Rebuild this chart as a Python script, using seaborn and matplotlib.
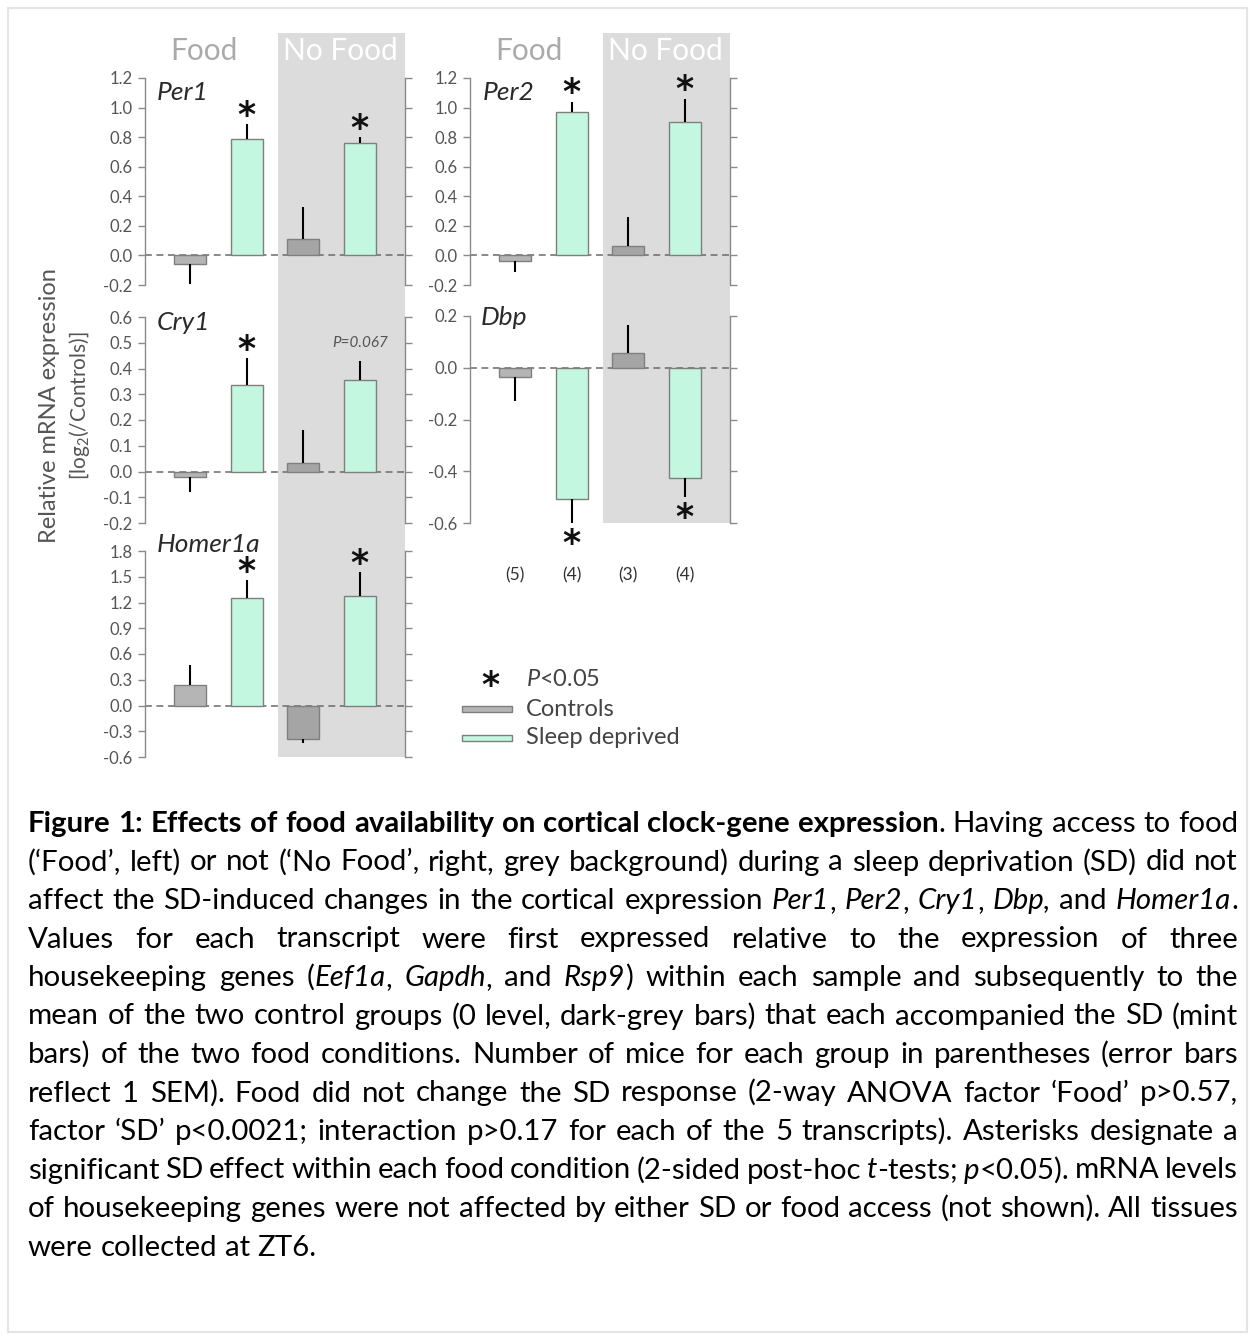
import re
import numpy as np
import pandas as pd
import matplotlib
matplotlib.use("Agg")
import matplotlib.pyplot as plt
import matplotlib.transforms as mtransforms
from matplotlib.patches import Rectangle
import seaborn as sns

# ---------------- data ----------------
groups = ["Food Ctrl", "Food SD", "No Food Ctrl", "No Food SD"]
n_mice = ["(5)", "(4)", "(3)", "(4)"]

per1_mean = [-0.06, 0.79, 0.11, 0.76]
per1_sem = [0.13, 0.10, 0.22, 0.04]
per1_sig = [False, True, False, True]

per2_mean = [-0.04, 0.97, 0.067, 0.90]
per2_sem = [0.07, 0.07, 0.19, 0.16]
per2_sig = [False, True, False, True]

cry1_mean = [-0.022, 0.334, 0.032, 0.354]
cry1_sem = [0.056, 0.106, 0.13, 0.075]
cry1_sig = [False, True, False, False]
cry1_note = ["", "", "", "P=0.067"]

dbp_mean = [-0.035, -0.506, 0.057, -0.427]
dbp_sem = [0.095, 0.094, 0.11, 0.073]
dbp_sig = [False, True, False, True]

homer_mean = [0.237, 1.248, -0.393, 1.28]
homer_sem = [0.235, 0.21, 0.04, 0.27]
homer_sig = [False, True, False, True]

per_ticks = [-0.2, 0.0, 0.2, 0.4, 0.6, 0.8, 1.0, 1.2]
cry1_ticks = [-0.2, -0.1, 0.0, 0.1, 0.2, 0.3, 0.4, 0.5, 0.6]
homer_ticks = [-0.6, -0.3, 0.0, 0.3, 0.6, 0.9, 1.2, 1.5, 1.8]
dbp_ticks = [-0.6, -0.4, -0.2, 0.0, 0.2]

header_left = "Food"
header_right = "No Food"
legend_labels = ["$P$<0.05", "Controls", "Sleep deprived"]

caption_lines = [
    "**Figure 1: Effects of food availability on cortical clock-gene expression**. Having access to food",
    "(\u2018Food\u2019, left) or not (\u2018No Food\u2019, right, grey background) during a sleep deprivation (SD) did not",
    "affect the SD-induced changes in the cortical expression _Per1_, _Per2_, _Cry1_, _Dbp,_ and _Homer1a_.",
    "Values for each transcript were first expressed relative to the expression of three",
    "housekeeping genes (_Eef1a_, _Gapdh_, and _Rsp9_) within each sample and subsequently to the",
    "mean of the two control groups (0 level, dark-grey bars) that each accompanied the SD (mint",
    "bars) of the two food conditions. Number of mice for each group in parentheses (error bars",
    "reflect 1 SEM). Food did not change the SD response (2-way ANOVA factor \u2018Food\u2019 p>0.57,",
    "factor \u2018SD\u2019 p<0.0021; interaction p>0.17 for each of the 5 transcripts). Asterisks designate a",
    "significant SD effect within each food condition (2-sided post-hoc _t_-tests; _p_<0.05). mRNA levels",
    "of housekeeping genes were not affected by either SD or food access (not shown). All tissues",
    "were collected at ZT6.",
]

# ---------------- style ----------------
sns.set_theme(style="white")
plt.rcParams['font.family'] = ['Lato', 'DejaVu Sans']
plt.rcParams['axes.unicode_minus'] = False
plt.rcParams['mathtext.fontset'] = 'custom'
plt.rcParams['mathtext.rm'] = 'Lato'
plt.rcParams['mathtext.it'] = 'Lato:italic'

W, H = 1255, 1340
fig = plt.figure(figsize=(W / 100, H / 100), dpi=100)
fig.patch.set_facecolor('white')

c_ctrl_food = '#b5b5b5'
c_ctrl_nofood = '#a5a5a5'
c_sd = '#c3f7df'
c_edge = '#7f7f7f'
c_shade = '#dcdcdc'
c_axis = '#8a8a8a'
c_tick = '#555555'
palette = dict(zip(groups, [c_ctrl_food, c_sd, c_ctrl_nofood, c_sd]))

XLIM = (-0.8, 3.8)
SHADE_START = 1.55


def px_rect(left, top, width, height):
    return [left / W, 1 - (top + height) / H, width / W, height / H]


def make_panel(rect, name, means, sems, sig, ticks, notes=None, name_pos=(0.046, 0.894)):
    ax = fig.add_axes(px_rect(*rect))
    ax.set_facecolor('none')
    df = pd.DataFrame({"group": groups, "value": means})
    sns.barplot(data=df, x="group", y="value", hue="group", order=groups,
                palette=palette, saturation=1, width=0.57, errorbar=None,
                edgecolor=c_edge, linewidth=1.0, legend=False, ax=ax, zorder=3)
    ax.axhline(0, color='#6a6a6a', lw=1.1, ls=(0, (4.5, 3)), zorder=1)
    for i, (m, s) in enumerate(zip(means, sems)):
        if m >= 0:
            yerr = [[0], [s]]
            end = m + s
        else:
            yerr = [[s], [0]]
            end = m - s
        ax.errorbar(i, m, yerr=yerr, fmt='none', ecolor='black', elinewidth=1.5,
                    capsize=0, zorder=4, clip_on=False)
        if sig[i]:
            off = 6 if m >= 0 else -15
            ax.annotate("*", xy=(i, end), xytext=(0, off), textcoords='offset points',
                        ha='center', va='center', fontsize=25, family='DejaVu Sans',
                        fontweight='bold', color='#111111', annotation_clip=False)
        if notes and notes[i]:
            ax.annotate(notes[i], xy=(i, end), xytext=(0, 13), textcoords='offset points',
                        ha='center', va='center', fontsize=11, style='italic',
                        color='#555555', annotation_clip=False)
    ax.set_xlim(*XLIM)
    ax.set_ylim(ticks[0], ticks[-1])
    ax.set_yticks(ticks)
    labs = []
    for v in ticks:
        v = round(v, 3)
        if abs(v) < 1e-9:
            v = 0.0
        labs.append(f"{v:.1f}")
    ax.set_yticklabels(labs)
    ax.set_xlabel("")
    ax.set_ylabel("")
    for side in ['top', 'bottom']:
        ax.spines[side].set_visible(False)
    for side in ['left', 'right']:
        ax.spines[side].set_visible(True)
        ax.spines[side].set_color(c_axis)
        ax.spines[side].set_linewidth(1.0)
    ax.tick_params(axis='x', bottom=False, labelbottom=False)
    ax.tick_params(axis='y', left=True, right=True, labelleft=True, labelright=False,
                   direction='out', length=5, width=1.0, color=c_axis,
                   labelcolor=c_tick, labelsize=12, pad=4)
    ax.text(name_pos[0], name_pos[1], name, transform=ax.transAxes, ha='left',
            va='baseline', fontsize=19, style='italic', color='#2a2a2a')
    return ax


ax_per1 = make_panel((145, 78, 260, 207), "Per1", per1_mean, per1_sem, per1_sig, per_ticks,
                     name_pos=(0.046, 0.894))
ax_cry1 = make_panel((145, 317, 260, 206), "Cry1", cry1_mean, cry1_sem, cry1_sig, cry1_ticks,
                     notes=cry1_note, name_pos=(0.046, 0.937))
ax_homer = make_panel((145, 551, 260, 206), "Homer1a", homer_mean, homer_sem, homer_sig,
                      homer_ticks, name_pos=(0.046, 0.995))
ax_per2 = make_panel((470, 78, 260, 207), "Per2", per2_mean, per2_sem, per2_sig, per_ticks,
                     name_pos=(0.05, 0.894))
ax_dbp = make_panel((470, 316, 260, 207), "Dbp", dbp_mean, dbp_sem, dbp_sig, dbp_ticks,
                    name_pos=(0.042, 0.957))

# n labels under Dbp
tr = mtransforms.blended_transform_factory(ax_dbp.transData, ax_dbp.transAxes)
for i, lab in enumerate(n_mice):
    ax_dbp.text(i, -0.255, lab, transform=tr, ha='center', va='center',
                fontsize=12.5, color='#333333')

# grey "No Food" shading spanning each column
inv = fig.transFigure.inverted()
for top_ax, bot_ax in [(ax_per1, ax_homer), (ax_per2, ax_dbp)]:
    x0 = inv.transform(top_ax.transData.transform((SHADE_START, 0)))[0]
    x1 = top_ax.get_position().x1
    y0 = bot_ax.get_position().y0
    y1 = 1 - 33 / H
    fig.patches.append(Rectangle((x0, y0), x1 - x0, y1 - y0, transform=fig.transFigure,
                                 facecolor=c_shade, edgecolor='none', zorder=-1))

# column headers
for ax in [ax_per1, ax_per2]:
    trh = mtransforms.blended_transform_factory(ax.transData, ax.transAxes)
    hy = ax.transAxes.inverted().transform(fig.transFigure.transform((0, 1 - 51 / H)))[1]
    ax.text(0.25, hy, header_left, transform=trh, ha='center', va='center',
            fontsize=21.5, color='#aaaaaa')
    ax.text(2.65, hy, header_right, transform=trh, ha='center', va='center',
            fontsize=21.5, color='white')

# y label
fig.text(50 / W, 1 - 406 / H, "Relative mRNA expression", rotation=90, ha='center',
         va='center', fontsize=17, color='#555555')
fig.text(79 / W, 1 - 406 / H, "[log$_2$(/Controls)]", rotation=90, ha='center',
         va='center', fontsize=15, color='#555555')

# legend (manual)
leg_y = [680, 709, 738]
fig.text(490 / W, 1 - (leg_y[0] + 6) / H, "*", ha='center', va='center', fontsize=25,
         family='DejaVu Sans', fontweight='bold', color='#111111')
for k, lab in enumerate(legend_labels):
    fig.text(526 / W, 1 - leg_y[k] / H, lab, ha='left', va='center', fontsize=17,
             color='#444444')
for k, col in [(1, c_ctrl_food), (2, c_sd)]:
    fig.patches.append(Rectangle((462 / W, 1 - (leg_y[k] + 3) / H), 50 / W, 6 / H,
                                 transform=fig.transFigure, facecolor=col,
                                 edgecolor=c_edge, lw=1.0))

# light frame around the figure
fig.patches.append(Rectangle((8 / W, 1 - 1332 / H), (1247 - 8) / W, (1332 - 8) / H,
                             transform=fig.transFigure, facecolor='none',
                             edgecolor='#e4e4e4', lw=1.5, zorder=-2))

# ---------------- justified caption ----------------
CAP_FAMILY = ['Lato', 'DejaVu Sans']
cap_x0, cap_x1 = 28, 1238
cap_base0, cap_dy = 832, 38.5


def parse(line):
    runs = []
    for part in re.split(r'(\*\*.+?\*\*|_.+?_)', line):
        if not part:
            continue
        if part.startswith('**'):
            runs.append((part[2:-2], 'bold', 'normal'))
        elif part.startswith('_'):
            runs.append((part[1:-1], 'normal', 'italic'))
        else:
            runs.append((part, 'normal', 'normal'))
    words = [[]]
    for text, wgt, sty in runs:
        pieces = text.split(' ')
        for k, p in enumerate(pieces):
            if k > 0:
                words.append([])
            if p:
                words[-1].append((p, wgt, sty))
    return [w for w in words if w]


fig.canvas.draw()
renderer = fig.canvas.get_renderer()
_cache = {}


def measure(s, wgt, sty, size):
    key = (s, wgt, sty, size)
    if key not in _cache:
        t = fig.text(0, 0, s, fontsize=size, weight=wgt, style=sty, family=CAP_FAMILY)
        _cache[key] = t.get_window_extent(renderer).width
        t.remove()
    return _cache[key]


parsed = [parse(l) for l in caption_lines]
size = 16.5
space = measure("a a", 'normal', 'normal', size) - measure("aa", 'normal', 'normal', size)
avail = cap_x1 - cap_x0
worst = 0
for words in parsed[:-1]:
    tot = sum(measure(t, w, s, size) for wd in words for (t, w, s) in wd)
    nat = tot + (len(words) - 1) * space * 0.8
    worst = max(worst, nat / avail)
size = size / worst
space = measure("a a", 'normal', 'normal', size) - measure("aa", 'normal', 'normal', size)

for li, words in enumerate(parsed):
    widths = [[measure(t, w, s, size) for (t, w, s) in wd] for wd in words]
    tot = sum(sum(ws) for ws in widths)
    if li < len(parsed) - 1 and len(words) > 1:
        gap = (avail - tot) / (len(words) - 1)
    else:
        gap = space
    x = cap_x0
    yb = 1 - (cap_base0 + li * cap_dy) / H
    for wd, ws in zip(words, widths):
        for (t, w, s), wpx in zip(wd, ws):
            fig.text(x / W, yb, t, fontsize=size, weight=w, style=s, family=CAP_FAMILY,
                     ha='left', va='baseline', color='black')
            x += wpx
        x += gap

fig.savefig("out.png", dpi=100, facecolor='white')
